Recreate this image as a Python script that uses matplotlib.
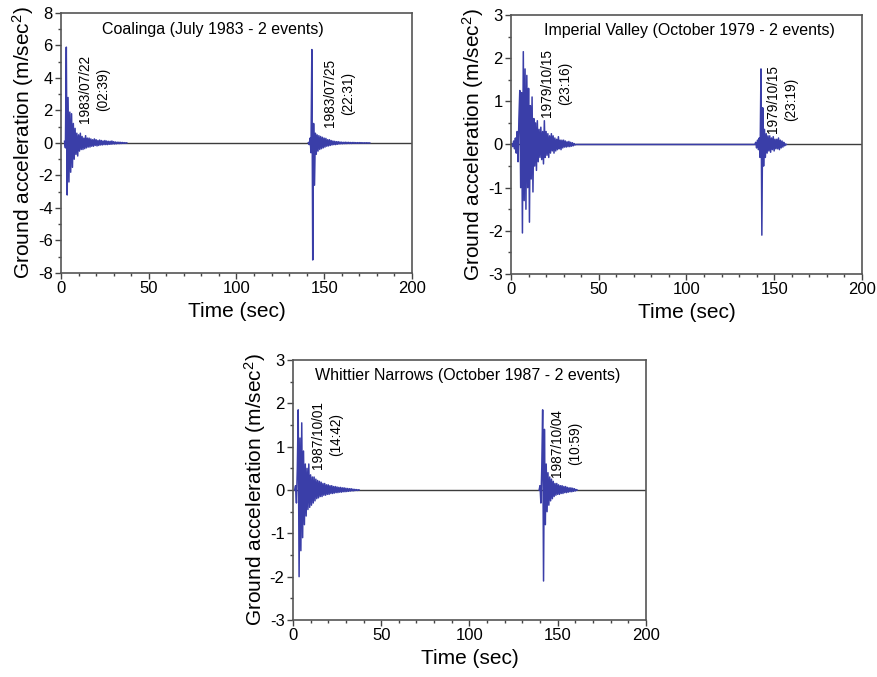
import numpy as np
import matplotlib
matplotlib.use("Agg")
from matplotlib import pyplot as plt
from matplotlib.ticker import MultipleLocator

plt.rcParams['font.family'] = ['Liberation Sans', 'DejaVu Sans']
plt.rcParams['mathtext.default'] = 'regular'
plt.rcParams['axes.unicode_minus'] = False

# 采样间隔 (sec)
dt = 0.5

# Coalinga 1983/07/22 (02:39)
coa1_t0 = 2.0
coa1_acc = [0.1, -0.3, 5.9, -3.2, 2.8, -2.4, 1.9, -1.8, 1.8, -1.5, 1.2, -1.0, 0.9, -0.7,
            0.6, -0.8, 0.5, -0.5, 0.6, -0.4, 0.4, -0.4, 0.3, -0.35, 0.45, -0.3, 0.3, -0.25,
            0.3, -0.25, 0.25, -0.2, 0.2, -0.2, 0.25, -0.15, 0.2, -0.18, 0.15, -0.15, 0.18,
            -0.12, 0.15, -0.12, 0.12, -0.1, 0.15, -0.1, 0.12, -0.1, 0.1, -0.08, 0.1, -0.08,
            0.12, -0.06, 0.08, -0.06, 0.06, -0.05, 0.05, -0.04, 0.05, -0.04, 0.04, -0.03,
            0.03, -0.02, 0.02, -0.02, 0.01, 0.0]
# Coalinga 1983/07/25 (22:31)
coa2_t0 = 141.0
coa2_acc = [0.02, -0.1, 0.3, -0.6, 5.75, -7.2, 1.2, -2.6, 0.6, -0.7, 0.5, -0.5, 0.45,
            -0.4, 0.4, -0.35, 0.35, -0.3, 0.3, -0.25, 0.28, -0.2, 0.2, -0.18, 0.2, -0.15,
            0.15, -0.12, 0.12, -0.1, 0.1, -0.1, 0.08, -0.08, 0.08, -0.06, 0.06, -0.05, 0.05,
            -0.05, 0.04, -0.04, 0.05, -0.04, 0.04, -0.03, 0.04, -0.03, 0.03, -0.03, 0.03,
            -0.02, 0.03, -0.02, 0.02, -0.02, 0.02, -0.02, 0.02, -0.01, 0.02, -0.01, 0.01,
            -0.01, 0.01, -0.01, 0.01, 0.0, 0.0, 0.0, 0.0]

# Imperial Valley 1979/10/15 (23:16)
imp1_t0 = 0.0
imp1_acc = [0.0, 0.02, -0.05, 0.08, -0.1, 0.15, -0.2, 0.3, -0.4, 0.6, 1.25, -1.0, 1.2,
            -2.05, 2.15, -1.3, 1.75, -1.5, 1.6, -1.0, 1.3, -1.8, 0.9, -0.8, 1.1, -1.1, 0.6,
            -0.5, 0.5, -0.6, 0.55, -0.4, 0.35, -0.3, 0.4, -0.35, 0.3, -0.45, 0.55, -0.3,
            0.3, -0.25, 0.25, -0.3, 0.2, -0.2, 0.25, -0.15, 0.2, -0.2, 0.15, -0.15, 0.12,
            -0.12, 0.18, -0.1, 0.1, -0.12, 0.1, -0.08, 0.1, -0.06, 0.08, -0.06, 0.06, -0.05,
            0.07, -0.05, 0.05, -0.04, 0.04, -0.03, 0.02, -0.01, 0.0]
# Imperial Valley 1979/10/15 (23:19)
imp2_t0 = 139.0
imp2_acc = [0.0, 0.05, -0.08, 0.1, -0.12, 0.15, -0.3, 1.75, -2.1, 0.85, -0.5, 0.35, -0.3,
            0.25, -0.2, 0.2, -0.15, 0.2, -0.18, 0.15, -0.12, 0.18, -0.15, 0.12, -0.1, 0.12,
            -0.1, 0.15, -0.12, 0.1, -0.08, 0.08, -0.06, 0.05, -0.03, 0.01, 0.0]

# Whittier Narrows 1987/10/01 (14:42)
whi1_t0 = 1.0
whi1_acc = [0.0, 0.1, -0.3, 0.5, 1.85, -2.0, 1.2, -1.4, 1.55, -1.1, 0.9, -0.8, 0.6, -0.6,
            0.5, -0.45, 0.6, -0.4, 0.35, -0.35, 0.3, -0.3, 0.3, -0.25, 0.25, -0.2, 0.22,
            -0.18, 0.2, -0.15, 0.18, -0.15, 0.15, -0.12, 0.15, -0.12, 0.12, -0.1, 0.12,
            -0.1, 0.1, -0.08, 0.1, -0.08, 0.08, -0.07, 0.08, -0.06, 0.07, -0.06, 0.06,
            -0.05, 0.06, -0.05, 0.05, -0.04, 0.05, -0.04, 0.04, -0.035, 0.035, -0.03, 0.03,
            -0.025, 0.03, -0.02, 0.02, -0.02, 0.015, -0.01, 0.01, -0.01, 0.005, 0.0]
# Whittier Narrows 1987/10/04 (10:59)
whi2_t0 = 139.5
whi2_acc = [0.0, 0.1, -0.3, 0.5, 1.85, -2.1, 1.4, -0.8, 0.6, -0.5, 0.4, -0.35, 0.3, -0.25,
            0.25, -0.2, 0.2, -0.15, 0.15, -0.12, 0.15, -0.1, 0.12, -0.1, 0.1, -0.08, 0.1,
            -0.08, 0.08, -0.06, 0.08, -0.06, 0.06, -0.05, 0.05, -0.04, 0.05, -0.04, 0.04,
            -0.03, 0.03, -0.02, 0.01, 0.0]

trace_color = '#3a3ea8'


def times(t0, acc):
    return t0 + dt * np.arange(len(acc))


def panel(rect, ylim, ymaj, ymin, events, title, title_xy, labels, join=False):
    ax = fig.add_axes(rect)
    ax.axhline(0, color='#3c3c3c', lw=1.0, zorder=1)
    if join:
        t = np.concatenate([times(t0, a) for t0, a in events])
        a = np.concatenate([a for t0, a in events])
        ax.plot(t, a, color=trace_color, lw=1.1, zorder=2)
    else:
        for t0, a in events:
            ax.plot(times(t0, a), a, color=trace_color, lw=1.1, zorder=2)
    ax.set_xlim(0, 200)
    ax.set_ylim(*ylim)
    ax.xaxis.set_major_locator(MultipleLocator(50))
    ax.xaxis.set_minor_locator(MultipleLocator(10))
    ax.yaxis.set_major_locator(MultipleLocator(ymaj))
    ax.yaxis.set_minor_locator(MultipleLocator(ymin))
    ax.tick_params(which='major', direction='out', length=4, width=1, labelsize=12,
                   color='#444444', pad=2)
    ax.tick_params(which='minor', direction='out', length=2.5, width=1, color='#444444')
    for s in ax.spines.values():
        s.set_color('#555555')
        s.set_linewidth(1.2)
    ax.set_xlabel('Time (sec)', fontsize=15, labelpad=4)
    ax.set_ylabel('Ground acceleration (m/sec$^2$)', fontsize=15, labelpad=1)
    ax.text(title_xy[0], title_xy[1], title, transform=ax.transAxes, fontsize=11.5,
            ha='center', va='center')
    for txt, x, y in labels:
        ax.text(x, y, txt, transform=ax.transAxes, fontsize=9.8, rotation=90,
                ha='center', va='center', multialignment='center', linespacing=1.35)
    return ax


fig = plt.figure(figsize=(8.77, 6.77), dpi=100)

panel([0.0696, 0.5968, 0.400, 0.384], (-8, 8), 2, 1,
      [(coa1_t0, coa1_acc), (coa2_t0, coa2_acc)],
      'Coalinga (July 1983 - 2 events)', (0.434, 0.938),
      [('1983/07/22\n(02:39)', 0.094, 0.708), ('1983/07/25\n(22:31)', 0.792, 0.692)])

panel([0.5827, 0.5953, 0.400, 0.3826], (-3, 3), 1, 0.5,
      [(imp1_t0, imp1_acc), (imp2_t0, imp2_acc)],
      'Imperial Valley (October 1979 - 2 events)', (0.509, 0.939),
      [('1979/10/15\n(23:16)', 0.128, 0.737), ('1979/10/15\n(23:19)', 0.772, 0.676)],
      join=True)

panel([0.334, 0.0842, 0.4025, 0.384], (-3, 3), 1, 0.5,
      [(whi1_t0, whi1_acc), (whi2_t0, whi2_acc)],
      'Whittier Narrows (October 1987 - 2 events)', (0.496, 0.942),
      [('1987/10/01\n(14:42)', 0.096, 0.712), ('1987/10/04\n(10:59)', 0.773, 0.681)])

plt.savefig('out.png', dpi=100)
